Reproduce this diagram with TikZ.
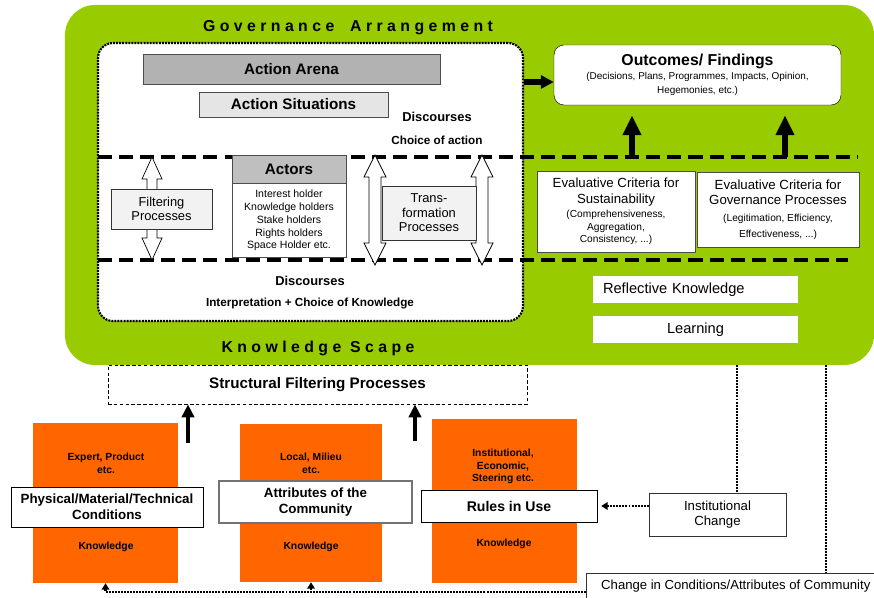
\documentclass[tikz,border=0pt]{standalone}
\usepackage{fontspec}
\setmainfont{Liberation Sans}
\newfontfamily\spaced[LetterSpace=28]{Liberation Sans}
\usetikzlibrary{arrows.meta,positioning}
\definecolor{leaf}{HTML}{99CC00}
\definecolor{rust}{HTML}{FF6600}
% hollow double arrow: x, top, bottom, half shaft, half head, head length
\newcommand{\hollowarr}[6]{%
  \draw[hollow] (#1,#2) -- ++(#5,#6) -- ++(#4-#5,0) -- (#1+#4,#3-#6)
    -- ++(#5-#4,0) -- (#1,#3) -- ++(-#5,-#6) -- ++(#5-#4,0)
    -- (#1-#4,#2+#6) -- ++(#4-#5,0) -- cycle;}
\tikzset{
    %Define style for the big panel
    scape/.style={
           rectangle,
           rounded corners=9mm,
           fill=leaf,
           minimum width=242.7mm,
           minimum height=108mm},
    spacedtitle/.style={
           font=\spaced\bfseries\fontsize{13.5}{16}\selectfont},
    arenaframe/.style={
           rectangle,
           rounded corners=4.5mm,
           fill=white,
           draw=black,
           line width=1.8pt,
           dash pattern=on 1.7pt off 0.9pt,
           minimum width=127.5mm,
           minimum height=83.4mm},
    %Define style for boxes
    graybox/.style={
           rectangle,
           draw=black!70,
           inner sep=0pt,
           font=\fontsize{13}{15}\selectfont\bfseries},
    lightbox/.style={
           rectangle,
           draw=black!80,
           fill=black!5,
           inner sep=0pt,
           align=center,
           font=\fontsize{11}{12.5}\selectfont},
    whitebox/.style={
           rectangle,
           draw=black,
           fill=white,
           inner sep=0pt,
           align=center},
    evalbox/.style={
           rectangle,
           draw=black!70,
           fill=white,
           inner sep=0pt,
           align=center,
           font=\fontsize{11.3}{13.6}\selectfont},
    plainbox/.style={
           rectangle,
           fill=white,
           inner sep=0pt,
           minimum width=61.5mm,
           minimum height=8.1mm,
           font=\fontsize{12.5}{14}\selectfont},
    orangebox/.style={
           rectangle,
           fill=rust,
           inner sep=0pt},
    oratext/.style={
           align=center,
           font=\fontsize{8.8}{10.8}\selectfont\bfseries},
    condbox/.style={
           rectangle,
           draw=black,
           fill=white,
           inner sep=0pt,
           align=center,
           font=\fontsize{11.4}{13.6}\selectfont\bfseries},
    bigtext/.style={font=\fontsize{11}{13}\selectfont\bfseries},
    smalltext/.style={font=\fontsize{10}{12}\selectfont\bfseries},
    % Define line and arrow styles
    dashline/.style={
           line width=2.6pt,
           dash pattern=on 12pt off 6pt},
    dotline/.style={
           line width=2pt,
           dash pattern=on 1.7pt off 0.9pt},
    dotarr/.style={
           dotline,
           -{Triangle[width=6.5pt,length=5.5pt]}},
    bigarr/.style={
           line width=4.6pt,
           -{Triangle[width=15pt,length=17pt]}},
    sidearr/.style={
           line width=4.4pt,
           -{Triangle[width=11pt,length=11pt]}},
    uparr/.style={
           line width=4.2pt,
           -{Triangle[width=10.5pt,length=11pt]}},
    hollow/.style={
           draw=black,
           fill=white,
           line width=0.6pt}
}
\begin{document}
\begin{tikzpicture}[x=0.3mm,y=-0.3mm]
  \useasboundingbox (0,0) rectangle (874,598);
  % green panel and its titles
  \node[scape] (ga) at (469.5,185) {};
  \node[spacedtitle] (gatitle) at (348,28) {Governance\hspace{6pt} Arrangement};
  \node[spacedtitle] (kstitle) at (318,348) {Knowledge Scape};
  % dotted arena frame and the two dashed levels
  \node[arenaframe] (arena) at (310.5,182) {};
  \draw[dashline] (98,157) -- (858,157);
  \draw[dashline] (98,260) -- (848,260);
  \node[graybox, fill=black!30, minimum width=89.1mm, minimum height=9mm] (aarena) at (291.5,69) {Action Arena};
  \node[graybox, fill=black!10, minimum width=56.7mm, minimum height=7.5mm] (asit) at (293.5,104.5) {Action Situations};
  \node[bigtext] (disc1) at (437,117) {Discourses};
  \node[smalltext] (choice) at (437,140) {Choice of action};
  % filtering, actors, transformation
  \hollowarr{152}{157}{260}{5}{10}{22}
  \node[lightbox, minimum width=30.3mm, minimum height=12mm] (filt) at (161.5,209) {Filtering\\Processes};
  \node[graybox, fill=black!25, minimum width=34.2mm, minimum height=8.4mm] (acthead) at (289,169) {Actors};
  \node[rectangle, draw=black!70, fill=white, inner sep=0pt, minimum width=34.2mm, minimum height=22.2mm,
        below=0pt of acthead, align=center, font=\fontsize{9}{11}\selectfont] (actbody)
        {Interest holder\\Knowledge holders\\Stake holders\\Rights holders\\Space Holder etc.};
  \hollowarr{375}{155}{265}{6}{11}{22}
  \hollowarr{482}{155}{265}{6}{11}{22}
  \node[lightbox, line width=0.7pt, minimum width=28.2mm, minimum height=16.2mm,
        font=\fontsize{11}{12.4}\selectfont] (trans) at (429,213) {Trans-\\formation\\Processes};
  \node[bigtext] (disc2) at (310,281) {Discourses};
  \node[smalltext] (interp) at (310,303) {Interpretation + Choice of Knowledge};
  % outcomes and evaluation
  \node[whitebox, rounded corners=3mm, minimum width=86.1mm, minimum height=18mm] (outc) at (697.5,75)
        {{\fontsize{13.5}{16}\selectfont\bfseries Outcomes/ Findings}\\
         {\fontsize{8.5}{11}\selectfont (Decisions, Plans, Programmes, Impacts, Opinion,}\\
         {\fontsize{8.5}{11}\selectfont Hegemonies, etc.)}};
  \coordinate (oin) at ([yshift=-2.1mm]outc.west);
  \draw[sidearr] (arena.east |- oin) -- (oin);
  \node[evalbox, minimum width=47.4mm, minimum height=24.3mm] (eval1) at (616,211.5)
        {Evaluative Criteria for\\Sustainability\\[-1.5pt]
         {\fontsize{8.7}{11}\selectfont (Comprehensiveness,}\\[-3pt]
         {\fontsize{8.7}{11}\selectfont Aggregation,}\\[-3pt]
         {\fontsize{8.7}{11}\selectfont Consistency, ...)}};
  \node[evalbox, minimum width=48.6mm, minimum height=22.5mm] (eval2) at (778,209.5)
        {Evaluative Criteria for\\Governance Processes\\[0.5pt]
         {\fontsize{8.7}{12.5}\selectfont (Legitimation, Efficiency,}\\
         {\fontsize{8.7}{12.5}\selectfont Effectiveness, ...)}};
  \coordinate (u1) at (632,157);
  \coordinate (u2) at (785,157);
  \draw[bigarr, shorten >=3mm] (u1) -- (u1 |- outc.south);
  \draw[bigarr, shorten >=3mm] (u2) -- (u2 |- outc.south);
  \node[plainbox, text width=55.5mm, inner xsep=3mm, align=left] (refl) at (695.5,289.5) {Reflective Knowledge};
  \node[plainbox, below=3.9mm of refl] (learn) {Learning};
  % structural filtering and the three knowledge columns
  \node[whitebox, line width=0.8pt, dash pattern=on 3pt off 2pt, minimum width=125.7mm, minimum height=11.7mm,
        font=\fontsize{13}{15}\selectfont\bfseries] (sfp) at (317.5,384.5) {Structural Filtering Processes};
  \node[orangebox, minimum width=43.5mm, minimum height=48mm] (ora1) at (105.5,503) {};
  \node[orangebox, minimum width=42.6mm, minimum height=47.4mm] (ora2) at (311,503) {};
  \node[orangebox, minimum width=43.5mm, minimum height=49.2mm] (ora3) at (504.5,501) {};
  \node[oratext] (ora1top) at (106,463.5) {Expert, Product\\etc.};
  \node[oratext] (ora1bot) at (106,547) {Knowledge};
  \node[oratext] (ora2top) at (311,463.5) {Local, Milieu\\etc.};
  \node[oratext] (ora2bot) at (311,547) {Knowledge};
  \node[oratext, font=\fontsize{8.8}{10.6}\selectfont\bfseries] (ora3top) at (503,466.5) {Institutional,\\Economic,\\Steering etc.};
  \node[oratext] (ora3bot) at (504,544) {Knowledge};
  \node[condbox, minimum width=57.6mm, minimum height=12mm] (phys) at (107,507) {Physical/Material/Technical\\Conditions};
  \node[condbox, draw=black!55, line width=1pt, minimum width=57.9mm, minimum height=12.6mm] (attr) at (315.5,502) {Attributes of the\\Community};
  \node[condbox, minimum width=52.8mm, minimum height=9.6mm, font=\fontsize{12}{14}\selectfont\bfseries] (rules) at (509,506) {Rules in Use};
  \coordinate (s1) at (188,443);
  \coordinate (s2) at (415,441);
  \draw[uparr] (s1) -- (s1 |- sfp.south);
  \draw[uparr] (s2) -- (s2 |- sfp.south);
  % change boxes and dotted feedback
  \node[whitebox, draw=black!80, minimum width=41.1mm, minimum height=12.9mm,
        font=\fontsize{11.3}{13.5}\selectfont] (inst) at (717.5,514.5) {Institutional\\Change};
  \node[anchor=north west, inner xsep=4.5mm, inner ysep=0pt, minimum height=7.5mm,
        font=\fontsize{11.2}{13}\selectfont] (chg) at (586,573) {Change in Conditions/Attributes of Community};
  \draw[black!80] (chg.south west) -- (chg.north west) -- (chg.north west -| ga.east);
  \coordinate (v1) at (737,365);
  \coordinate (v2) at (826,365);
  \draw[dotline] (v1) -- (v1 |- inst.north);
  \draw[dotline] (v2) -- (v2 |- chg.north);
  \draw[dotarr, shorten >=1.2mm] (inst.west |- rules.east) -- (rules.east);
  \coordinate (dl) at (586,592);
  \draw[dotarr] (dl) -| (ora2.south);
  \draw[dotarr] (dl) -| (ora1.south);
\end{tikzpicture}
\end{document}
